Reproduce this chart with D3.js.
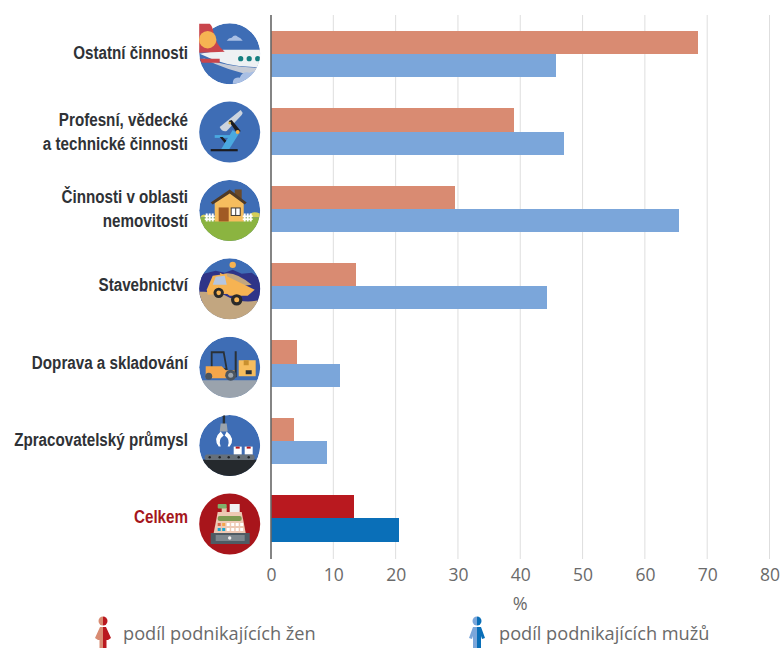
<!DOCTYPE html>
<html><head><meta charset="utf-8">
<script src="https://cdn.jsdelivr.net/npm/d3@7"></script>
<style>html,body{margin:0;background:#fff}svg{display:block}</style></head>
<body><svg id="c" width="780" height="648"></svg>
<script>
const categories=[["Ostatní činnosti"],["Profesní, vědecké","a technické činnosti"],["Činnosti v oblasti","nemovitostí"],["Stavebnictví"],["Doprava a skladování"],["Zpracovatelský průmysl"],["Celkem"]];
const women=[68.6,39,29.6,13.7,4.2,3.7,13.3];
const men=[45.8,47,65.4,44.3,11.1,9,20.6];
const ticks=[0,10,20,30,40,50,60,70,80];
const legendLabels=["podíl podnikajících žen","podíl podnikajících mužů"];
const iconNames=["plane","scope","house","truck","fork","robot","till"];

const svg=d3.select("#c");
const x=d3.scaleLinear().domain([0,80]).range([271,769.5]);
const y=d3.scaleBand().domain(d3.range(7)).range([15.5,557]).paddingInner(0.4).paddingOuter(0.2);
const iy=d3.scalePoint().domain(d3.range(7)).range([53.7,524]);
const sans="'Open Sans','Noto Sans',sans-serif";

// grid
svg.append("g").selectAll("line").data(ticks.slice(1)).join("line")
 .attr("x1",d=>x(d)).attr("x2",d=>x(d)).attr("y1",15).attr("y2",559)
 .attr("stroke","#dedede").attr("stroke-width",1);

// bars
const bh=y.bandwidth()/2;
const gw=svg.append("g").attr("shape-rendering","crispEdges");
gw.append("g").selectAll("rect").data(women).join("rect")
 .attr("x",x(0)).attr("y",(d,i)=>y(i)).attr("width",d=>x(d)-x(0)).attr("height",bh)
 .attr("fill",(d,i)=>i==6?"#b9191f":"#d98b72");
gw.append("g").selectAll("rect").data(men).join("rect")
 .attr("x",x(0)).attr("y",(d,i)=>y(i)+bh).attr("width",d=>x(d)-x(0)).attr("height",bh)
 .attr("fill",(d,i)=>i==6?"#0a6fb8":"#7ba6da");

// axis
const ax=svg.append("g").attr("transform","translate(0,559)").call(d3.axisBottom(x).tickValues(ticks).tickSize(0).tickPadding(10));
ax.select(".domain").remove();
ax.selectAll("text").attr("font-family",sans).attr("font-size",17.5).attr("fill","#6a6a6a").attr("dy","0.71em");
svg.append("line").attr("x1",x(0)).attr("x2",x(0)).attr("y1",15).attr("y2",559).attr("stroke","#666").attr("stroke-width",1.6);
svg.append("text").attr("x",x(40)).attr("y",610).attr("text-anchor","middle").attr("font-family",sans).attr("font-size",18).attr("fill","#6a6a6a").text("%");

// category labels
const lab=svg.append("g").attr("transform","translate(188,0) scale(0.8,1)").selectAll("text").data(categories).join("text")
 .attr("text-anchor","end").attr("font-family","'Liberation Sans',sans-serif").attr("font-weight","700")
 .attr("font-size",19).attr("fill",(d,i)=>i==6?"#a5161c":"#2f3236");
lab.each(function(d,i){
 const cy=y(i)+y.bandwidth()/2, n=d.length;
 d3.select(this).selectAll("tspan").data(d).join("tspan").attr("x",0)
  .attr("y",(t,k)=>cy+6-(n-1)*11+k*24-1).text(t=>t);
});

// icons
const defs=svg.append("defs");
defs.append("clipPath").attr("id","cc").append("circle").attr("r",30.5);
const P=(g,d,f,o)=>g.append("path").attr("d",d).attr("fill",f).attr("opacity",o||1);
const R=(g,a,b,w,h,f,r)=>g.append("rect").attr("x",a).attr("y",b).attr("width",w).attr("height",h).attr("fill",f).attr("rx",r||0);
const C=(g,a,b,r,f)=>g.append("circle").attr("cx",a).attr("cy",b).attr("r",r).attr("fill",f);
const draw={
 plane(g0){
  const g=g0.append("g").attr("clip-path","url(#cc)");
  C(g,0,0,30.5,"#3e6db5");
  P(g,"M-3,-13 q2,-3 5,-3 q3,-4 6,-1 q3,1 5,4 z","#a9bfe4");
  P(g,"M-30,0 L-6,-4 L31,-4 L31,13 Q0,15 -30,0 z","#eef1f3");
  P(g,"M-28,4 Q0,14 31,14 L26,22 Q0,18 -28,4 z","#c6cbd6");
  C(g,11,5,2.6,"#157f80");C(g,19.5,5,2.6,"#157f80");C(g,28,5,2.6,"#157f80");
  P(g,"M3,30 q0,-7 7,-6 q3,-7 10,-5 q6,-3 11,1 L31,31 z","#a9bfe4");
  P(g0,"M-30.5,-30 L-20,-30 Q-17,-28 -16,-20 Q-13,-8 -5,-2 L-30.5,-1 z","#c9454c");
  C(g0,-22,-14,8.7,"#f6b352");
  P(g0,"M-30,5 L-10,5 L-10,9 L-28,9 z","#c9454c");
 },
 scope(g0){
  C(g0,0,0,30.5,"#3e6db5");
  P(g0,"M-10,-5 L11,-22 L13,-19 L12,-17 L-3,-1 Q-8,0 -10,-5z","#ccd4de");
  R(g0,-15,3,17,2.8,"#4aa9e0");
  P(g0,"M-10,5 L-7,5 L-3,9 L-5,11z","#1c1c20");
  P(g0,"M3,-2 L9,2 L-1,18 L-9,18z","#4aa9e0");
  P(g0,"M-1,-11 L2,-12 L11,-1 L8,2z","#1c1c20");
  R(g0,-19,17,27,2.2,"#1c1c20");
  C(g0,8,0,2,"#f6b352");C(g0,0,-9,1.3,"#d8b040");
 },
 house(g0){
  const g=g0.append("g").attr("clip-path","url(#cc)");
  C(g,0,0,30.5,"#3e6db5");
  P(g,"M-30,7 q4,-6 9,0 z M18,7 q4,-8 12,-4 l0,4z","#d4cf58");
  R(g,-31,7,62,24,"#8bb440");
  R(g,5,-21,7,10,"#6b4a2a");
  P(g,"M-15,-9 L-1,-18 L14,-9 L14,11 L-15,11z","#f6bd5e");
  P(g,"M-19,-8 L0,-21 L17,-8 L15,-6 L0,-17 L-17,-6z","#4f3a27");
  R(g,-11,-3,10,14,"#a05a24");
  R(g,1,-3,10,8.5,"#3f3a36");R(g,2,-2,3.5,6.5,"#fff");R(g,6.5,-2,3.5,6.5,"#fff");
  for(const b of [-24,-21,-18,14,17,20]) R(g,b,3,2,8,"#fff");
  R(g,-25,5,10,1.5,"#fff");R(g,-25,8,10,1.5,"#fff");R(g,13,5,10,1.5,"#fff");R(g,13,8,10,1.5,"#fff");
 },
 truck(g0){
  const g=g0.append("g").attr("clip-path","url(#cc)");
  C(g,0,0,30.5,"#3e6db5");
  C(g,3,-24,3.2,"#f6b352");
  P(g,"M-31,-14 L-22,-16 L-14,-18 L-5,-16 L3,-19 L12,-15 L22,-16 L31,-10 L31,14 L-31,14z","#2f3488");
  P(g,"M-31,3 Q-10,2 0,9 Q15,15 31,11 L31,31 L-31,31z","#c2a680");
  P(g,"M-6,-15 Q5,-18 22,-4 L5,-2z","#c2a680");
  P(g,"M-10,-16 L25,1 L18,7 L0,7 L-4,4z","#f6b352");
  P(g,"M-23,1 L-17,-13 L-3,-15 L0,5 L-22,6 Z","#f6b352");
  P(g,"M-14,-12 L-5,-13 L-3,-4 L-17,-4z","#b5c6e0");
  C(g,-11,4,5.2,"#2a2a2a");C(g,-11,4,2.3,"#f6b352");
  C(g,7,11,5.7,"#2a2a2a");C(g,7,11,2.5,"#f6b352");
 },
 fork(g0){
  const g=g0.append("g").attr("clip-path","url(#cc)");
  C(g,0,0,30.5,"#3e6db5");
  R(g,-31,13,62,18,"#9aa3ad");
  P(g,"M-18,-15 L-6,-15 L-3,2 L-18,2z","none").attr("stroke","#2a3138").attr("stroke-width",1.8);
  P(g,"M-24,-1 L-8,-1 L-4,3 L5,3 L5,11 L-24,11z","#f5a64a");
  R(g,5,-16,2,26,"#2a3138");
  R(g,9,-7,17,16,"#f6bd5e");R(g,14,-7,5,5,"#c9902f");R(g,16,3,6,4,"#2a3138");
  C(g,-21,9,3.5,"#4b5560");C(g,1,8,5.5,"#4b5560");C(g,1,8,2.5,"#9aa3ad");
 },
 robot(g0){
  const g=g0.append("g").attr("clip-path","url(#cc)");
  C(g,0,0,30.5,"#3e6db5");
  R(g,-7,-31,2.4,10,"#2a3138");
  P(g,"M-10,-14 L-9,-22 L-3,-22 L-2,-14z","#9aa3ad");
  P(g,"M-9,-14 Q-17,-7 -11,1 L-9,1 Q-12,-6 -6,-10z M-3,-14 Q6,-7 0,1 L-2,1 Q1,-6 -5,-10z","#fff");
  R(g,4,1,8,8,"#fff");R(g,6,1,4,2,"#b9191f");R(g,15,1,8,8,"#fff");R(g,17,1,4,2,"#b9191f");
  R(g,-31,14,62,20,"#25292d");
  R(g,-25,9,50,5.5,"#66707a",2.7);
  for(const b of [-20,-10,-1,9,19]) C(g,b,11.7,1.2,"#22262a");
 },
 till(g0){
  C(g0,0,0,30.5,"#a8151b");
  R(g0,0,-20,10,9,"#f0f1f2");
  R(g0,-8,-16,5,5,"#e9c3ad");
  R(g0,-12,-20,9,4.5,"#7fb06a",1);
  P(g0,"M-12,-12 L12,-12 L16,9 L-16,9z","#eec9b4");
  R(g0,-12,-8,24,5,"#7e9a52",2);
  const cs=["#d8654a","#f5a64a","#fff","#fff","#fff","#fff","#1aa7d0","#1aa7d0","#fff","#fff","#fff","#fff"];
  cs.forEach((c,i)=>R(g0,-12+(i%6)*4.5,-1+Math.floor(i/6)*5,3,3,c));
  R(g0,-19,9,39,11,"#4f5b63");
  R(g0,-14,11,29,6,"#7d878e");
  C(g0,0,14,1.7,"#eee");
 }
};
iconNames.forEach((n,i)=>{
 const g=svg.append("g").attr("transform",`translate(229.7,${iy(i)})`);
 draw[n](g);
});

// legend
function person(xc,yc,cl,cr,female){
 const g=svg.append("g").attr("transform",`translate(${xc},${yc})`);
 const half=(s,c)=>{
  const h=g.append("g").attr("transform",`scale(${s},1)`);
  P(h,"M0,-15.5 A4.5,4.5 0 0 1 0,-6.5 Z",c);
  if(female) P(h,"M0,-5 L3,-5 L8,6 L5,8 L3.5,8 L3.5,16 L0,16z",c);
  else P(h,"M0,-5 L4,-5 L8,6 L5,7 L4,4 L4,16 L0,16z",c);
 };
 half(-1,cl);half(1,cr);
}
person(103,632,"#d98b72","#b9191f",true);
person(477,632,"#7ba6da","#0a6fb8",false);
svg.append("g").selectAll("text").data(legendLabels).join("text")
 .attr("x",(d,i)=>i?499:123).attr("y",640).attr("font-family",sans).attr("font-size",18.2).attr("fill","#6a6a6a").text(d=>d);
</script></body></html>
